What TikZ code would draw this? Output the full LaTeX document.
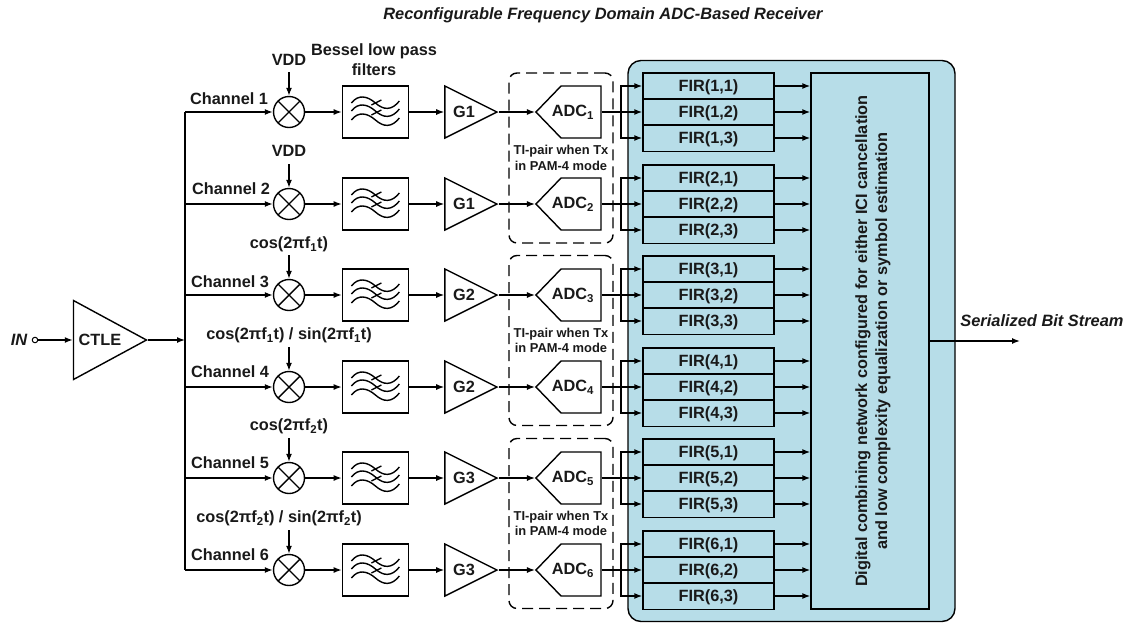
\documentclass[tikz,border=0pt]{standalone}
\usepackage{fontspec}
\setmainfont{Liberation Sans}
\usepackage{xcolor}
\usetikzlibrary{arrows.meta, positioning, shapes.geometric, shapes.symbols}
\definecolor{panelblue}{HTML}{B7DDE8}
\newcommand{\bigfont}{\fontsize{16.3}{20}\selectfont\bfseries}
\newcommand{\slantfont}{\fontsize{16.4}{20}\selectfont\bfseries\itshape}
\newcommand{\tifont}{\fontsize{12.9}{15.5}\selectfont\bfseries}
\tikzset{
  waves/.pic={
    \foreach \o in {0,8,17}
      \draw[line width=1.4pt, yshift=\o*-1pt] (-24,-9) .. controls (-17,-18) and (-8,-16) .. (0,-9)
        .. controls (8,-2) and (16,-1) .. (24,-11);
    \draw[line width=1.4pt] (-4,-7) -- (6,-12);
    \draw[line width=1.4pt] (-4,3) -- (6,-2);
  },
}
\begin{document}
\begin{tikzpicture}[
  x=1pt, y=-1pt, line width=1.4pt,
  every node/.style={font=\bigfont, align=center, text=black!90},
  arr/.style={-{Latex[length=8pt, width=6pt]}},
  mixer/.style={draw, circle, minimum size=31pt, inner sep=0pt, fill=white,
                path picture={
                  \draw (path picture bounding box.north west) -- (path picture bounding box.south east);
                  \draw (path picture bounding box.north east) -- (path picture bounding box.south west);}},
  filt/.style={draw, minimum width=66pt, minimum height=52pt, inner sep=0pt},
  gain/.style={draw, isosceles triangle, isosceles triangle stretches, shape border rotate=0,
               minimum width=52pt, minimum height=52pt, inner sep=0pt},
  adc/.style={draw, signal, signal to=west, signal pointer angle=92, minimum width=65pt,
              minimum height=52pt, inner sep=0pt},
  fir/.style={draw, minimum width=131pt, minimum height=26.4pt, inner sep=0pt, fill=panelblue, text depth=0pt},
  pairbox/.style={draw, dashed, dash pattern=on 11pt off 6pt, rounded corners=8pt,
                  minimum width=104pt, minimum height=170pt, font=\tifont},
]
  \useasboundingbox (0,0) rectangle (1130,622);

  % Digital section behind the FIR blocks
  \node[draw, rounded corners=13pt, fill=panelblue, minimum width=327pt, minimum height=561pt,
        inner sep=0pt] (panel) at (791.5,341) {};
  \node[draw, minimum width=118pt, minimum height=536pt, inner sep=0pt, fill=panelblue] (dsp) at (870,341) {};
  \node[rotate=90] (dsptext) at (873,341)
        {Digital combining network configured for either ICI cancellation\\
         and low complexity equalization or symbol estimation};

  % Front end
  \node[font=\slantfont] (title) at (603,15)
        {Reconfigurable Frequency Domain ADC-Based Receiver};
  \node[font=\slantfont] (inlabel) at (19,340) {IN};
  \node[draw, circle, minimum size=5.5pt, inner sep=0pt, line width=1pt] (inpin) at (35,340) {};
  \node[draw, isosceles triangle, isosceles triangle stretches, shape border rotate=0,
        minimum width=79pt, minimum height=73pt, inner sep=0pt] (ctle) at (97,340) {};
  \node (ctletext) at (100,340) {CTLE};
  \coordinate (bus) at (185,340);
  \coordinate (bustop) at (185,112);
  \coordinate (busbot) at (185,570);
  \draw[arr] (inpin) -- (ctle.west);
  \draw[arr] (ctle.apex) -- (bus);
  \draw (bustop) -- (busbot);

  % Six channels
  \foreach \i/\y/\g/\cx/\cy in {1/112/G1/229/99, 2/204/G1/231/189, 3/295/G2/230/282,
                                4/387/G2/230/372, 5/478/G3/230/463, 6/570/G3/230/555} {
    \coordinate (tap\i) at (185,\y);
    \node (chan\i) at (\cx,\cy) {Channel \i};
    \node[mixer] (mix\i) at (289,\y) {};
    \node[filt, right=36.5pt of mix\i] (filt\i) {};
    \pic at (filt\i) {waves};
    \node[gain] (gain\i) at (461,\y) {};
    \node (gtext\i) at (464,\y) {\g};
    \node[adc] (adc\i) at (581,\y) {};
    \node (adctext\i) at (573,\y+0.5) {ADC\textsubscript{\i}};
    \coordinate (lo\i) at (289,\y-40);
    \coordinate (fan\i) at (621,\y);
    \draw[arr] (tap\i) -- (mix\i);
    \draw[arr] (lo\i) -- (mix\i);
    \draw[arr] (mix\i) -- (filt\i);
    \draw[arr] (filt\i.east) -- (gain\i.west);
    \draw[arr] (gain\i.apex) -- (adc\i.west);
    \draw (adc\i.east) -- (fan\i);
    \foreach \j/\d in {1/-26, 2/0, 3/26} {
      \node[fir] (fir\i\j) at (708.5,\y+\d) {FIR(\i,\j)};
      \draw[arr] (fan\i) |- (fir\i\j.west);
      \draw[arr] (fir\i\j.east) -- (fir\i\j.east -| dsp.west);
    }
  }

  % Mixer drive labels
  \node (lo1text) at (289,60) {VDD};
  \node (lo2text) at (289,151) {VDD};
  \node (lo3text) at (289,244.5) {cos(2πf\textsubscript{1}t)};
  \node (lo4text) at (289,335.5) {cos(2πf\textsubscript{1}t) / sin(2πf\textsubscript{1}t)};
  \node (lo5text) at (289,426.5) {cos(2πf\textsubscript{2}t)};
  \node (lo6text) at (279,518.5) {cos(2πf\textsubscript{2}t) / sin(2πf\textsubscript{2}t)};
  \node (bessel) at (374,60) {Bessel low pass\\filters};

  % TI pairs (dashed)
  \node[pairbox] (pair1) at (561,158) {TI-pair when Tx\\in PAM-4 mode};
  \node[pairbox] (pair2) at (561,340.5) {TI-pair when Tx\\in PAM-4 mode};
  \node[pairbox] (pair3) at (561,523.5) {TI-pair when Tx\\in PAM-4 mode};

  % Output
  \coordinate (out) at (1020,341);
  \draw[arr] (dsp.east) -- (out);
  \node[font=\slantfont] (outlabel) at (1042,321) {Serialized Bit Stream};
\end{tikzpicture}
\end{document}
